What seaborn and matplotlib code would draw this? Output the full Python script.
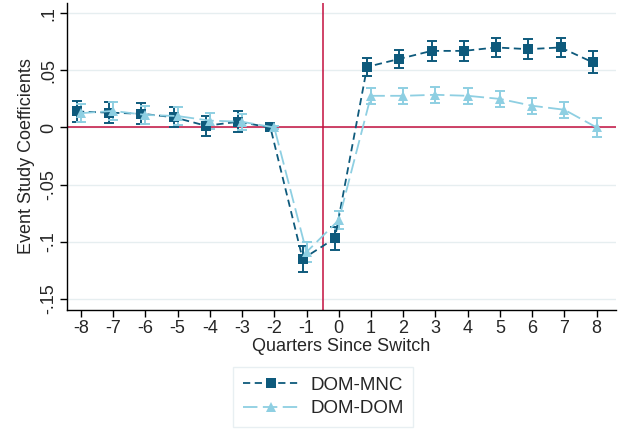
import numpy as np
import pandas as pd
import matplotlib
matplotlib.use("Agg")
import matplotlib.pyplot as plt
import seaborn as sns
from matplotlib.lines import Line2D

quarters = list(range(-8, 9))
mnc_coef = [0.014, 0.013, 0.012, 0.009, 0.0015, 0.005, 0.0, -0.115, -0.097,
            0.053, 0.060, 0.067, 0.067, 0.070, 0.0685, 0.070, 0.057]
mnc_err = [0.0095, 0.009, 0.009, 0.009, 0.0087, 0.009, 0.001, 0.011, 0.010,
           0.008, 0.008, 0.009, 0.0085, 0.0085, 0.0085, 0.0085, 0.0095]
dom_coef = [0.0125, 0.0145, 0.011, 0.010, 0.006, 0.005, 0.0, -0.109, -0.081,
            0.0277, 0.0277, 0.0286, 0.0277, 0.025, 0.019, 0.0155, 0.0]
dom_err = [0.008, 0.008, 0.008, 0.008, 0.007, 0.007, 0.001, 0.009, 0.008,
           0.007, 0.007, 0.007, 0.007, 0.007, 0.007, 0.007, 0.008]
series_names = ["DOM-MNC", "DOM-DOM"]
ytick_vals = [-0.15, -0.1, -0.05, 0, 0.05, 0.1]
ytick_labels = ["-.15", "-.1", "-.05", "0", ".05", ".1"]

mnc_col = "#0e5a7c"
dom_col = "#8ecfe2"
red = "#c3103f"

sns.set_theme(style="white")
plt.rcParams['font.family'] = ['Liberation Sans', 'DejaVu Sans']
fs = 13

offsets = {"DOM-MNC": -0.12, "DOM-DOM": 0.0}
rows = []
for name, c, e in [("DOM-MNC", mnc_coef, mnc_err), ("DOM-DOM", dom_coef, dom_err)]:
    for q, v, s in zip(quarters, c, e):
        rows.append({"x": q + offsets[name], "coef": v, "err": s, "series": name})
df = pd.DataFrame(rows)

fig = plt.figure(figsize=(6.26, 4.44), dpi=100)
ax = fig.add_axes([0.107, 0.302, 0.877, 0.691])

for yv in ytick_vals:
    ax.axhline(yv, color="#e6eef0", lw=1.0, zorder=0)
ax.axhline(0, color=red, lw=1.1, zorder=1)
ax.axvline(-0.5, color=red, lw=1.1, zorder=1)

palette = {"DOM-MNC": mnc_col, "DOM-DOM": dom_col}
for name in series_names:
    d = df[df.series == name]
    ax.errorbar(d.x, d.coef, yerr=d.err, fmt="none", ecolor=palette[name],
                elinewidth=1.4, capsize=3.5, capthick=1.4, zorder=2)

sns.lineplot(data=df, x="x", y="coef", hue="series", style="series",
             hue_order=series_names, style_order=series_names,
             palette=palette,
             dashes={"DOM-MNC": (4, 2.5), "DOM-DOM": (8, 3)},
             markers={"DOM-MNC": "s", "DOM-DOM": "^"},
             markersize=7, markeredgewidth=0, linewidth=1.3,
             ax=ax, legend=False, zorder=3, sort=False)

ax.set_xlim(-8.43, 8.6)
ax.set_ylim(-0.1596, 0.1088)
ax.set_xticks(quarters)
ax.set_xticklabels([str(q) for q in quarters], fontsize=fs)
ax.set_yticks(ytick_vals)
ax.set_yticklabels(ytick_labels, fontsize=fs, rotation=90, va="center")
ax.set_xlabel("Quarters Since Switch", fontsize=fs, labelpad=1)
ax.set_ylabel("Event Study Coefficients", fontsize=fs, labelpad=4)

for s in ["top", "right"]:
    ax.spines[s].set_visible(False)
for s in ["left", "bottom"]:
    ax.spines[s].set_color("black")
    ax.spines[s].set_linewidth(1.0)
ax.tick_params(axis="both", direction="out", length=5, width=1.0, color="black",
               bottom=True, left=True, pad=2)

handles = [
    Line2D([], [], color=mnc_col, ls=(0, (4, 2.5)), marker="s", markersize=7,
           markeredgewidth=0, lw=1.3),
    Line2D([], [], color=dom_col, ls=(0, (8, 3)), marker="^", markersize=7,
           markeredgewidth=0, lw=1.3),
]
leg = fig.legend(handles, series_names, loc="center", bbox_to_anchor=(0.516, 0.106),
                 prop={"size": 13.5}, frameon=True, fancybox=False, handlelength=3.0,
                 borderpad=0.5, labelspacing=0.35, handletextpad=0.6)
leg.get_frame().set_edgecolor("#e3ecef")
leg.get_frame().set_linewidth(1.0)

fig.savefig("out.png", dpi=100)
